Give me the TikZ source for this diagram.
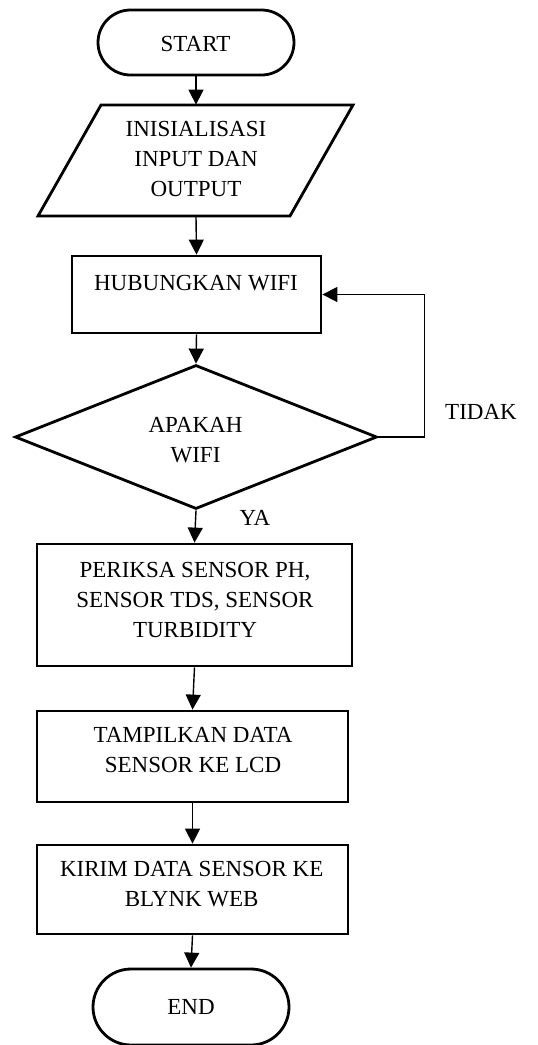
\documentclass[tikz,border=0pt]{standalone}
\usepackage{fontspec}
\setmainfont{Liberation Serif}
\usetikzlibrary{shapes.geometric,shapes.misc,arrows.meta}
\begin{document}
\begin{tikzpicture}[x=0.5pt,y=-0.5pt,
  every node/.style={font=\fontsize{11.5}{15}\selectfont, align=center, inner sep=0pt},
  term/.style={draw, line width=1.4pt, rounded rectangle, minimum width=98pt},
  proc/.style={draw, line width=1.4pt, rectangle},
  dec/.style={draw, line width=1.4pt, diamond, minimum width=181pt, minimum height=72pt},
  ghost/.style={rectangle, draw=none},
  shapeline/.style={line width=1.4pt, line join=miter},
  arr/.style={line width=0.7pt, -{Triangle[length=7.5pt,width=7.5pt]}}
]
\useasboundingbox (0,0) rectangle (537,1045);
\fill[white] (0,0) rectangle (537,1045);

% nodes
\node[term, minimum height=32.5pt] (start) at (196,42.5) {};
\node (startt) at (195.5,44) {START};

\node[ghost, minimum width=126pt, minimum height=55.5pt] (io) at (196,160.5) {};
\draw[shapeline] (101,105) -- (353,105) -- (290,216) -- (38,216) -- cycle;
\node (iot) at (196,158.5) {INISIALISASI\\INPUT DAN\\OUTPUT};

\node[proc, minimum width=124.5pt, minimum height=38.5pt] (hub) at (196.5,294.5) {};
\node (hubt) at (196,283) {HUBUNGKAN WIFI};

\node[dec] (dia) at (196,437) {};
\node (diat) at (195.5,440.5) {APAKAH\\WIFI};

\node (tidak) at (481,412) {TIDAK};
\node (ya) at (255,518) {YA};

\node[proc, minimum width=157.5pt, minimum height=61pt] (per) at (194.5,605) {};
\node (pert) at (195,599.5) {PERIKSA SENSOR PH,\\SENSOR TDS, SENSOR\\TURBIDITY};

\node[proc, minimum width=155.5pt, minimum height=45.5pt] (tam) at (192.5,756.5) {};
\node (tamt) at (193,750.5) {TAMPILKAN DATA\\SENSOR KE LCD};

\node[proc, minimum width=155.5pt, minimum height=44.5pt] (kir) at (192.5,889.5) {};
\node (kirt) at (191.7,884) {KIRIM DATA SENSOR KE\\BLYNK WEB};

\node[term, minimum height=38pt] (end) at (191,1007) {};
\node (endt) at (191,1007) {END};

% connectors
\draw[arr] (start.south) -- (io.north);
\draw[arr] (io.south) -- (hub.north);
\draw[arr] (hub.south) -- (dia.north);
\draw[arr] (dia.south) -- (per.north);
\draw[arr] (per.south) -- (tam.north);
\draw[arr] (tam.south) -- (kir.north);
\draw[arr] (kir.south) -- (end.north);
\draw[arr] (dia.east) -- ++(46,0) |- (hub.east);
\end{tikzpicture}
\end{document}
